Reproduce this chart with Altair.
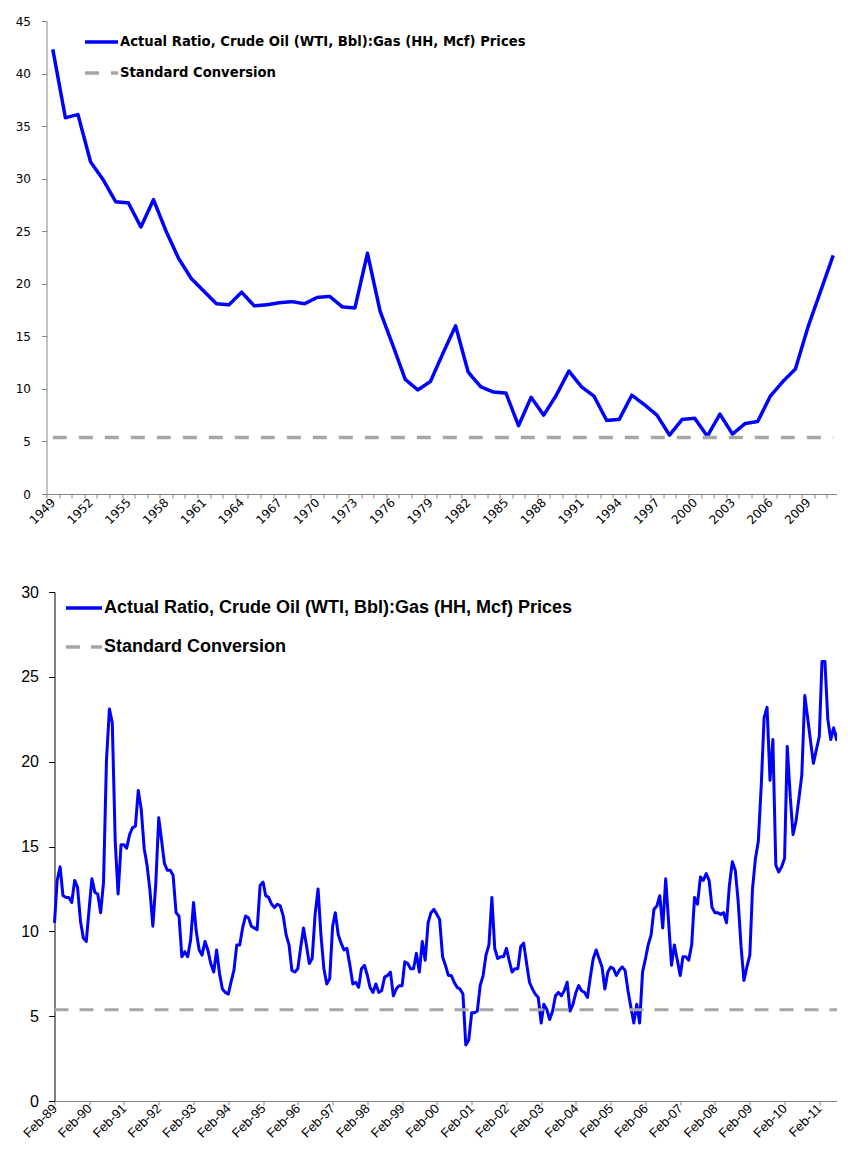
import altair as alt
import pandas as pd

SERIES = ["Actual Ratio, Crude Oil (WTI, Bbl):Gas (HH, Mcf) Prices", "Standard Conversion"]
COLORS = ["#0000ff", "#a6a6a6"]
STANDARD = 5.38

YEARS = list(range(1949, 2012))
ANNUAL = [
    42.3, 35.8, 36.1, 31.6, 29.9, 27.8, 27.7, 25.4, 28.0, 25.0,
    22.4, 20.5, 19.3, 18.1, 18.0, 19.2, 17.9, 18.0, 18.2, 18.3,
    18.1, 18.7, 18.8, 17.8, 17.7, 22.9, 17.4, 14.2, 10.9, 9.9,
    10.7, 13.4, 16.0, 11.6, 10.2, 9.7, 9.6, 6.5, 9.2, 7.5,
    9.4, 11.7, 10.2, 9.3, 7.0, 7.1, 9.4, 8.5, 7.5, 5.6,
    7.1, 7.2, 5.5, 7.6, 5.7, 6.7, 6.9, 9.3, 10.7, 11.9,
    15.9, 19.3, 22.7,
]

MONTHLY_START = "1989-02-01"
MONTHLY = [
    10.5, 13.0, 13.8, 12.1, 12.0, 12.0, 11.7, 13.0, 12.6, 10.6, 9.6, 9.4,
    11.4, 13.1, 12.3, 12.2, 11.1, 12.9, 20.1, 23.1, 22.3, 15.3, 12.2, 15.1,
    15.1, 14.9, 15.7, 16.1, 16.2, 18.3, 17.2, 14.9, 13.9, 12.4, 10.3, 12.8,
    16.7, 15.4, 14.0, 13.6, 13.6, 13.3, 11.1, 10.9, 8.5, 8.8, 8.5, 9.5,
    11.7, 10.0, 8.9, 8.6, 9.4, 8.9, 8.1, 7.6, 8.9, 7.5, 6.6, 6.4,
    6.3, 7.0, 7.7, 9.2, 9.2, 10.2, 10.9, 10.8, 10.3, 10.2, 10.1, 12.7,
    12.9, 12.1, 12.0, 11.6, 11.4, 11.6, 11.5, 10.9, 9.8, 9.2, 7.7, 7.6,
    7.8, 9.0, 10.2, 9.2, 8.1, 8.4, 11.0, 12.5, 9.8, 7.8, 6.9, 7.2,
    10.3, 11.1, 9.8, 9.3, 8.9, 9.0, 8.0, 6.9, 7.0, 6.7, 7.8, 8.0,
    7.4, 6.7, 6.4, 6.9, 6.4, 6.5, 7.3, 7.4, 7.6, 6.2, 6.6, 6.8,
    6.8, 8.2, 8.1, 7.8, 7.8, 8.7, 7.6, 9.4, 8.3, 10.5, 11.1, 11.3,
    11.0, 10.7, 8.5, 8.0, 7.4, 7.4, 7.0, 6.7, 6.6, 6.3, 3.3, 3.6,
    5.2, 5.2, 5.3, 6.8, 7.4, 8.6, 9.2, 12.0, 9.0, 8.4, 8.5, 8.5,
    9.0, 8.3, 7.6, 7.8, 7.8, 9.1, 9.3, 8.1, 7.0, 6.6, 6.3, 6.1,
    4.6, 5.7, 5.4, 4.8, 5.3, 6.2, 6.4, 6.2, 6.5, 7.0, 5.3, 5.7,
    6.4, 6.8, 6.5, 6.4, 6.1, 7.3, 8.4, 8.9, 8.4, 7.9, 6.6, 7.6,
    7.9, 7.8, 7.4, 7.7, 7.9, 7.7, 6.5, 5.5, 4.6, 5.7, 4.6, 7.6,
    8.4, 9.2, 9.8, 11.3, 11.5, 12.1, 10.2, 13.1, 10.6, 8.0, 9.2, 8.3,
    7.4, 8.5, 8.5, 8.3, 9.2, 12.0, 11.6, 13.2, 13.0, 13.4, 13.0, 11.4,
    11.1, 11.1, 11.0, 11.1, 10.5, 12.7, 14.1, 13.6, 11.8, 9.1, 7.1, 7.9,
    8.6, 12.5, 14.3, 15.3, 18.6, 22.6, 23.2, 18.9, 21.3, 13.9, 13.5, 13.8,
    14.3, 20.9, 18.0, 15.7, 16.5, 17.8, 19.2, 23.9, 22.6, 21.2, 19.9, 20.7,
    21.5, 25.9, 25.9, 22.5, 21.3, 22.0, 21.3, 22.0,
]
TICK_YEARS = list(range(1989, 2012))

# ---------------- top chart (annual) ----------------
n = len(YEARS)
top_df = pd.DataFrame({
    "year": YEARS + YEARS,
    "value": ANNUAL + [STANDARD] * n,
    "series": [SERIES[0]] * n + [SERIES[1]] * n,
})

top_legend = alt.Legend(
    title=None, orient="none", legendX=28.5, legendY=2.5, direction="vertical",
    labelFont="DejaVu Sans", labelFontSize=13.2, labelFontWeight="bold", labelColor="#000000",
    symbolType="stroke", symbolSize=1089, symbolStrokeWidth=3.5, labelOffset=0,
    rowPadding=5, labelLimit=1000, padding=0,
)

top = alt.Chart(top_df).mark_line(strokeWidth=3.5, strokeJoin="round").encode(
    x=alt.X(
        "year:O", bandPosition=0.5,
        scale=alt.Scale(type="band", range=[-8, 785], paddingInner=0, paddingOuter=0),
        axis=alt.Axis(
            title=None, tickBand="extent",
            labelExpr="(datum.value - 1949) % 3 == 0 ? datum.label : ''",
            labelAngle=-45, labelAlign="right", labelBaseline="middle", labelOverlap=False,
            labelFont="DejaVu Sans", labelFontSize=12, labelColor="#000000", labelPadding=2,
            domainColor="#868686", tickColor="#868686", tickSize=4, grid=False,
        ),
    ),
    y=alt.Y(
        "value:Q", scale=alt.Scale(domain=[0, 45], nice=False),
        axis=alt.Axis(
            title=None, values=list(range(0, 50, 5)), offset=8,
            labelFont="DejaVu Sans", labelFontSize=12, labelColor="#000000", labelPadding=11,
            domainColor="#868686", tickColor="#868686", tickSize=5, grid=False,
        ),
    ),
    color=alt.Color("series:N", scale=alt.Scale(domain=SERIES, range=COLORS), legend=top_legend),
    strokeDash=alt.StrokeDash("series:N", scale=alt.Scale(domain=SERIES, range=[[1, 0], [14, 12]]),
                              legend=top_legend),
).properties(width=785, height=473)

# ---------------- bottom chart (monthly) ----------------
m = len(MONTHLY)
dates = list(pd.date_range(MONTHLY_START, periods=m, freq="MS").strftime("%Y-%m-%dT00:00:00"))
bot_df = pd.DataFrame({
    "date": dates + dates,
    "value": MONTHLY + [STANDARD] * m,
    "series": [SERIES[0]] * m + [SERIES[1]] * m,
})

bot_legend = alt.Legend(
    title=None, orient="none", legendX=9.5, legendY=-4, direction="vertical",
    labelFont="Liberation Sans", labelFontSize=18, labelFontWeight="bold", labelColor="#000000",
    symbolType="stroke", symbolSize=1296, symbolStrokeWidth=3.5, labelOffset=0,
    rowPadding=10, labelLimit=1000, padding=0,
)

bottom = alt.Chart(bot_df).mark_line(strokeWidth=3, strokeJoin="round").encode(
    x=alt.X(
        "date:T",
        scale=alt.Scale(domain=[alt.DateTime(year=1989, month=2, date=1),
                                alt.DateTime(year=2011, month=9, date=1)]),
        axis=alt.Axis(
            title=None, values=[alt.DateTime(year=y, month=2, date=1) for y in TICK_YEARS],
            format="%b-%y", labelAngle=-45, labelAlign="right", labelBaseline="middle",
            labelOverlap=False, labelFont="Liberation Sans", labelFontSize=13,
            labelColor="#000000", labelPadding=1,
            domainColor="#868686", tickColor="#868686", tickSize=4, grid=False,
        ),
    ),
    y=alt.Y(
        "value:Q", scale=alt.Scale(domain=[0, 30], nice=False),
        axis=alt.Axis(
            title=None, values=list(range(0, 35, 5)),
            labelFont="Liberation Sans", labelFontSize=16, labelColor="#000000", labelPadding=10,
            domainColor="#000000", tickColor="#000000", tickSize=6, grid=False,
        ),
    ),
    color=alt.Color("series:N", scale=alt.Scale(domain=SERIES, range=COLORS), legend=bot_legend),
    strokeDash=alt.StrokeDash("series:N", scale=alt.Scale(domain=SERIES, range=[[1, 0], [14, 11]]),
                              legend=bot_legend),
).properties(width=785, height=509)

chart = alt.vconcat(top, bottom, spacing=58).resolve_scale(
    color="independent", strokeDash="independent"
).resolve_legend(
    color="independent", strokeDash="independent"
).properties(
    padding={"left": 6.5, "top": 7, "right": -11, "bottom": 0},
    background="white",
).configure_view(stroke=None)

chart.save("out.html", embed_options={"renderer": "svg", "actions": False})
